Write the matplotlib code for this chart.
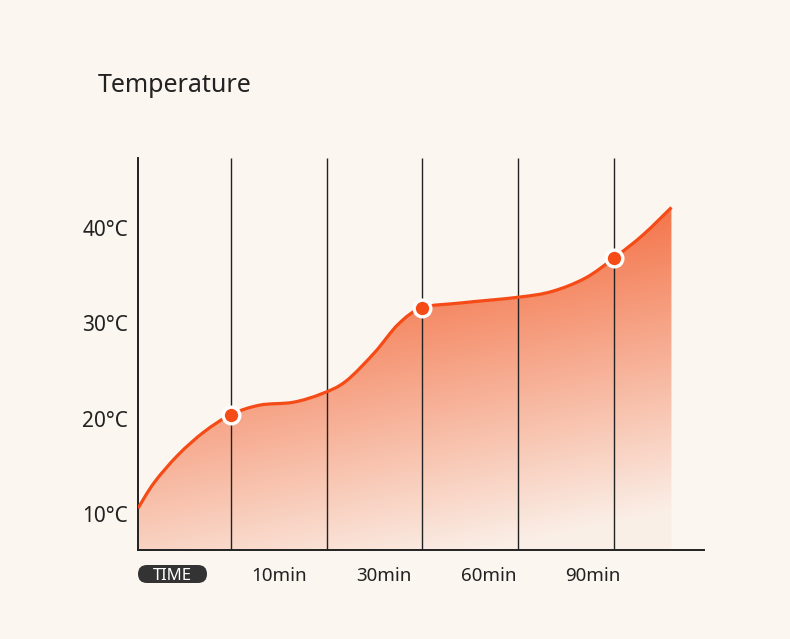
import numpy as np
import matplotlib.pyplot as plt
from matplotlib.path import Path
from matplotlib.patches import PathPatch, FancyBboxPatch
from matplotlib.transforms import IdentityTransform

# curve (x in grid steps, temperature in degC)
curve_x = [0.03, 0.2, 0.45, 0.72, 1.0, 1.3, 1.65, 1.95, 2.2, 2.5, 2.75, 3.0,
           3.4, 4.0, 4.35, 4.7, 5.0, 5.3, 5.6]
curve_t = [10.6, 13.3, 16.2, 18.6, 20.4, 21.4, 21.7, 22.6, 23.9, 26.9, 29.9, 31.6,
           32.1, 32.7, 33.3, 34.7, 36.8, 39.2, 42.1]
marker_x = [1, 3, 5]
marker_t = [20.4, 31.6, 36.8]
grid_x = [1, 2, 3, 4, 5]
y_ticks = [10, 20, 30, 40]
y_labels = ['10°C', '20°C', '30°C', '40°C']
x_labels = ['10min', '30min', '60min', '90min']

bg = '#fbf6f0'
red = '#f54b17'
dark = '#222222'

plt.rcParams['font.family'] = ['Noto Sans', 'DejaVu Sans']

fig = plt.figure(figsize=(7.9, 6.39), dpi=100, facecolor=bg)
ax = fig.add_axes([138/790, 89/639, 566/790, 392/639])
ax.set_facecolor(bg)
xmin, xmax, ymin, ymax = 0.03, 5.94, 6.23, 47.28
ax.set_xlim(xmin, xmax)
ax.set_ylim(ymin, ymax)

# smooth curve through the read points (catmull-rom -> bezier)
pts = np.column_stack([curve_x, curve_t])
n = len(pts)
verts = [pts[0]]
codes = [Path.MOVETO]
for i in range(n - 1):
    p0 = pts[max(i - 1, 0)]
    p1 = pts[i]
    p2 = pts[i + 1]
    p3 = pts[min(i + 2, n - 1)]
    verts += [p1 + (p2 - p0) / 6, p2 - (p3 - p1) / 6, p2]
    codes += [Path.CURVE4] * 3

fill_verts = verts + [(curve_x[-1], ymin), (curve_x[0], ymin), (curve_x[0], ymin)]
fill_codes = codes + [Path.LINETO, Path.LINETO, Path.CLOSEPOLY]
fill_patch = PathPatch(Path(fill_verts, fill_codes), facecolor='none', edgecolor='none')
ax.add_patch(fill_patch)

# diagonal gradient under the curve
H, W = 300, 300
yy, xx = np.mgrid[0:1:H*1j, 0:1:W*1j]
s = np.clip(yy * 1.0 + (0.5 - xx) * 0.3 + 0.08, 0.04, 1)
bg_rgb = np.array([251, 246, 240]) / 255
or_rgb = np.array([242, 90, 40]) / 255
img = bg_rgb * (1 - s[..., None]) + or_rgb * s[..., None]
im = ax.imshow(img, extent=[xmin, xmax, ymin, ymax], origin='lower', aspect='auto', zorder=1)
im.set_clip_path(fill_patch)

ax.vlines(grid_x, ymin, ymax, color=dark, lw=1.0, zorder=2)

line = PathPatch(Path(verts, codes), facecolor='none', edgecolor=red, lw=2.3,
                 capstyle='butt', zorder=3)
ax.add_patch(line)
ax.plot(marker_x, marker_t, 'o', ms=12, mfc=red, mec='white', mew=2.4, zorder=4)

for side in ['top', 'right']:
    ax.spines[side].set_visible(False)
for side in ['left', 'bottom']:
    ax.spines[side].set_color(dark)
    ax.spines[side].set_linewidth(1.4)

ax.set_yticks(y_ticks)
ax.set_yticklabels(y_labels)
ax.set_xticks([1.5, 2.6, 3.69, 4.78])
ax.set_xticklabels(x_labels)
ax.tick_params(axis='y', length=0, pad=7, labelsize=15, colors=dark)
ax.tick_params(axis='x', length=0, pad=12, labelsize=13.5, colors=dark)

# TIME badge
badge = FancyBboxPatch((138, 639 - 583), 69, 18, boxstyle='round,pad=0,rounding_size=9',
                       fc='#333333', ec='none', transform=IdentityTransform())
fig.add_artist(badge)
fig.text(172.5/790, 1 - 574.5/639, 'TIME', ha='center', va='center_baseline',
         fontsize=12, color='white')

fig.text(98/790, 1 - 86/639, 'Temperature', fontsize=18, color=dark, va='center', ha='left')

fig.savefig('out.png', dpi=100, facecolor=bg)
